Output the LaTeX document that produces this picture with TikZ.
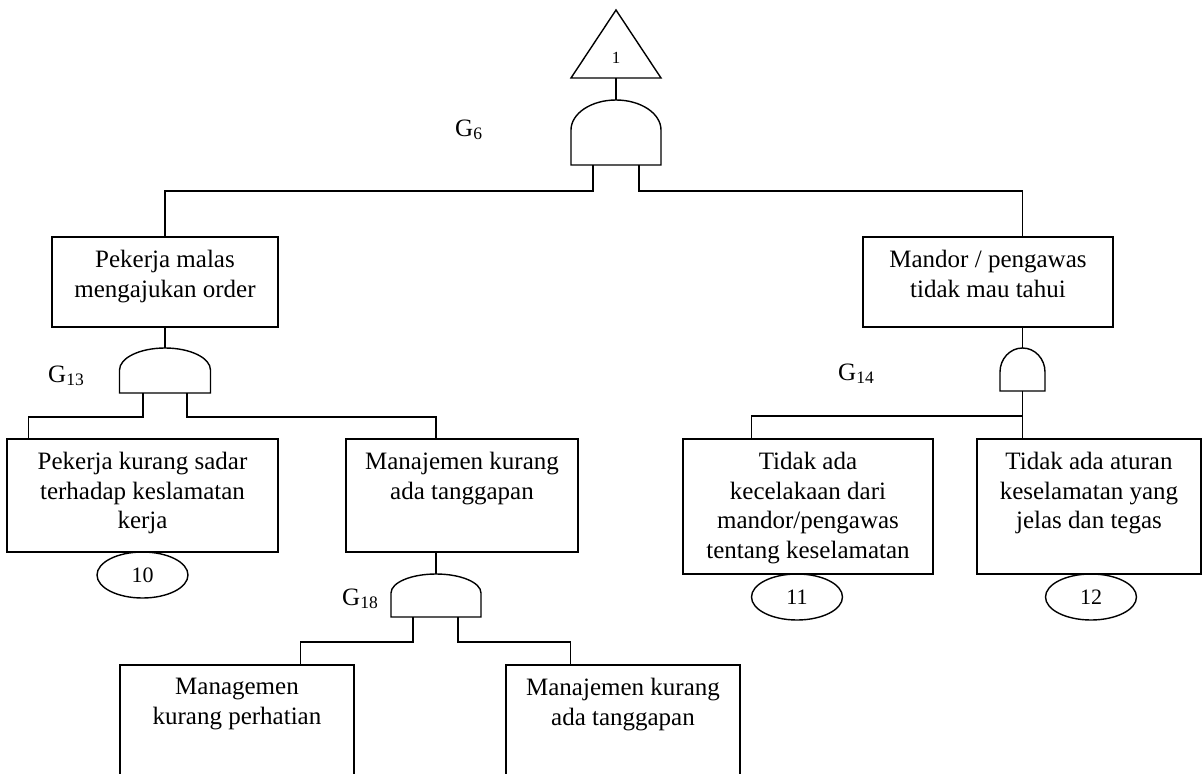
\documentclass[tikz,border=0pt]{standalone}
\usepackage{fontspec}
\setmainfont{Liberation Serif}
\usetikzlibrary{shapes.geometric}

% AND gate: #1 name, #2 centre x, #3 apex y, #4 y where the straight sides start,
% #5 bottom y, #6 half width
\newcommand\andgate[6]{%
  \draw[gateline] (#2-#6,#5) -- (#2-#6,#4)
    .. controls (#2-#6,{#4-0.552*(#4-#3)}) and ({#2-0.552*#6},#3) .. (#2,#3)
    .. controls ({#2+0.552*#6},#3) and (#2+#6,{#4-0.552*(#4-#3)}) .. (#2+#6,#4)
    -- (#2+#6,#5) -- cycle;
  \coordinate (#1) at (#2,#3);
  \coordinate (#1-b) at (#2,#5);}

\begin{document}
\begin{tikzpicture}[x=1pt,y=-1pt,
  wire/.style={line width=1.4pt, line join=miter},
  gateline/.style={line width=1.4pt},
  evbox/.style={draw, line width=1.4pt, rectangle, inner sep=0pt},
  evtext/.style={anchor=north, align=center, inner sep=0pt,
                 font=\fontsize{25}{29.5}\selectfont},
  basic/.style={draw, ellipse, line width=1.4pt, inner sep=0pt,
                minimum width=91pt, minimum height=46pt,
                font=\fontsize{22}{22}\selectfont},
  gatelabel/.style={anchor=base west, inner sep=0pt,
                    font=\fontsize{25}{25}\selectfont}]
\useasboundingbox (0,0) rectangle (1203,774);
\clip (0,0) rectangle (1203,774);

% top event transfer triangle
\draw[wire] (571,78) -- (616,10) -- (661,78) -- cycle;
\coordinate (tri-b) at (616,78);
\node[inner sep=0pt, font=\fontsize{17}{17}\selectfont] (t1) at (616,58) {1};

% gates
\andgate{g6}{616}{100}{130}{165}{45}
\andgate{g13}{165}{348}{370}{393}{45.5}
\andgate{g14}{1022.5}{348}{372}{391}{22.5}
\andgate{g18}{436}{574}{593}{617}{45}
\coordinate (g6-L) at (593,165);
\coordinate (g6-R) at (639,165);
\coordinate (g13-L) at (143,393);
\coordinate (g13-R) at (187,393);
\coordinate (g18-L) at (413,617);
\coordinate (g18-R) at (458,617);
\coordinate (j14) at (1022.5,416);

\node[gatelabel] (lg6)  at (455,136) {G\textsubscript{6}};
\node[gatelabel] (lg13) at (48,382)  {G\textsubscript{13}};
\node[gatelabel] (lg14) at (838,380) {G\textsubscript{14}};
\node[gatelabel] (lg18) at (342,605) {G\textsubscript{18}};

% event boxes
\node[evbox, minimum width=226pt, minimum height=90pt]  (boxA) at (165,282) {};
\node[evbox, minimum width=250pt, minimum height=90pt]  (boxB) at (988,282) {};
\node[evbox, minimum width=271pt, minimum height=113pt] (boxC) at (142.5,495.5) {};
\node[evbox, minimum width=232pt, minimum height=113pt] (boxD) at (462,495.5) {};
\node[evbox, minimum width=250pt, minimum height=135pt] (boxE) at (808,506.5) {};
\node[evbox, minimum width=224pt, minimum height=135pt] (boxF) at (1089,506.5) {};
\node[evbox, minimum width=234pt, minimum height=135pt] (boxG) at (237,732.5) {};
\node[evbox, minimum width=234pt, minimum height=135pt] (boxH) at (623,732.5) {};

\node[evtext] (tA) at ([yshift=-14pt]boxA.north) {Pekerja malas\\mengajukan order};
\node[evtext] (tB) at ([yshift=-14pt]boxB.north) {Mandor / pengawas\\tidak mau tahui};
\node[evtext] (tC) at ([yshift=-14pt]boxC.north) {Pekerja kurang sadar\\terhadap keslamatan\\kerja};
\node[evtext] (tD) at ([yshift=-14pt]boxD.north) {Manajemen kurang\\ada tanggapan};
\node[evtext] (tE) at ([yshift=-14pt]boxE.north) {Tidak ada\\kecelakaan dari\\mandor/pengawas\\tentang keselamatan};
\node[evtext] (tF) at ([yshift=-14pt]boxF.north) {Tidak ada aturan\\keselamatan yang\\jelas dan tegas};
\node[evtext] (tG) at ([yshift=-14pt]boxG.north) {Managemen\\kurang perhatian};
\node[evtext] (tH) at ([yshift=-14pt]boxH.north) {Manajemen kurang\\ada tanggapan};

% basic events
\node[basic] (e10) at (142.5,575) {10};
\node[basic] (e11) at (797,597)   {11};
\node[basic] (e12) at (1091,597)  {12};

% connectors
\draw[wire] (tri-b) -- (g6);
\draw[wire] (g6-L) -- ++(0,26) -| (boxA.north);
\draw[wire] (g6-R) -- ++(0,26) -| (boxB.north -| g14);
\draw[wire] (boxA.south) -- (g13);
\draw[wire] (g13-L) -- ++(0,24) -| ([xshift=22pt]boxC.north west);
\draw[wire] (g13-R) -- ++(0,24) -| (boxD.north -| g18);
\draw[wire] (boxD.south -| g18) -- (g18);
\draw[wire] (boxB.south -| g14) -- (g14);
\draw[wire] (g14-b) -- (g14-b |- boxF.north);
\draw[wire] (j14) -| ([xshift=69pt]boxE.north west);
\draw[wire] (g18-L) -- ++(0,25) -| ([xshift=181pt]boxG.north west);
\draw[wire] (g18-R) -- ++(0,25) -| ([xshift=65pt]boxH.north west);
\end{tikzpicture}
\end{document}
